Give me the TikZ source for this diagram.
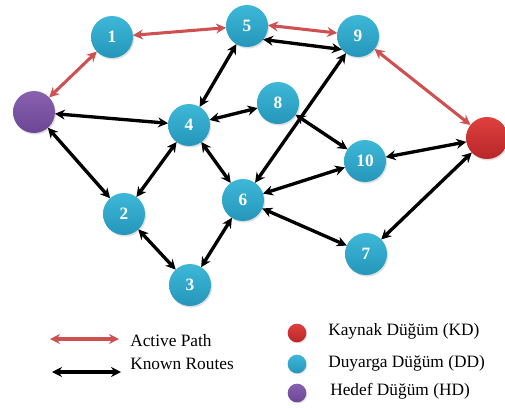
\documentclass[tikz,border=0pt]{standalone}
\usepackage{fontspec}
\setmainfont{Liberation Serif}
\usetikzlibrary{arrows.meta,shadows}
\definecolor{ddc}{RGB}{44,168,204}
\definecolor{ddtop}{RGB}{62,184,216}
\definecolor{ddbot}{RGB}{36,150,186}
\definecolor{kdc}{RGB}{208,48,48}
\definecolor{kdtop}{RGB}{222,64,62}
\definecolor{kdbot}{RGB}{185,38,40}
\definecolor{hdc}{RGB}{124,82,164}
\definecolor{hdtop}{RGB}{138,96,176}
\definecolor{hdbot}{RGB}{108,70,150}
\definecolor{actc}{RGB}{206,80,80}
\tikzset{
  nd/.style={circle,minimum size=31.5pt,inner sep=0pt,outer sep=0pt,
    drop shadow={opacity=0.25,shadow xshift=0.8pt,shadow yshift=-1.2pt},
    text=white,font=\fontsize{13}{13}\selectfont\bfseries},
  dd/.style={nd,top color=ddtop,bottom color=ddbot},
  kd/.style={nd,top color=kdtop,bottom color=kdbot},
  hd/.style={nd,top color=hdtop,bottom color=hdbot},
  known/.style={{Stealth[length=7.5pt,width=7.5pt]}-{Stealth[length=7.5pt,width=7.5pt]},line width=2.5pt,black},
  active/.style={{Stealth[length=7.5pt,width=7.5pt]}-{Stealth[length=7.5pt,width=7.5pt]},line width=2.3pt,actc},
  ldot/.style={circle,minimum size=14pt,inner sep=0pt,
    drop shadow={opacity=0.25,shadow xshift=0.6pt,shadow yshift=-0.8pt}},
  ltxt/.style={anchor=west,inner sep=0pt,font=\fontsize{13}{13}\selectfont}
}
\begin{document}
\begin{tikzpicture}[x=0.75pt,y=-0.75pt]
\useasboundingbox (0,0) rectangle (505,407);
% nodes
\node[hd] (hd) at (34,112) {};
\node[dd] (n1) at (112,37) {1};
\node[dd] (n5) at (247,26) {5};
\node[dd] (n9) at (358,36) {9};
\node[dd] (n4) at (189,125) {4};
\node[dd] (n8) at (278,103) {8};
\node[kd] (kd) at (487,138) {};
\node[dd] (n10) at (365,161) {10};
\node[dd] (n2) at (124,214) {2};
\node[dd] (n6) at (243,200) {6};
\node[dd] (n3) at (190,285) {3};
\node[dd] (n7) at (366,254) {7};
% active path
\draw[active] (hd) -- (n1);
\draw[active] (n1) -- (n5);
\draw[active] (n5.2) -- (n9.172);
\draw[active] (n9) -- (kd);
% known routes
\draw[known] (n5.-40) -- (n9.-140);
\draw[known] (n5) -- (n4);
\draw[known] (hd) -- (n4);
\draw[known] (hd) -- (n2);
\draw[known] (n4) -- (n8);
\draw[known] (n4) -- (n2);
\draw[known] (n4) -- (n6);
\draw[known] (n8) -- (n10);
\draw[known] (n9) -- (n6);
\draw[known] (n6) -- (n10);
\draw[known] (n6) -- (n7);
\draw[known] (n10) -- (kd);
\draw[known] (n7) -- (kd);
\draw[known] (n2) -- (n3);
\draw[known] (n3) -- (n6);
% legend
\coordinate (la1) at (50,339);
\coordinate (la2) at (119,339);
\coordinate (lb1) at (52,372);
\coordinate (lb2) at (121,372);
\draw[active] (la1) -- (la2);
\draw[known] (lb1) -- (lb2);
\node[ltxt] (tap) at (130,341) {Active Path};
\node[ltxt] (tkr) at (130,364) {Known Routes};
\node[ldot,top color=kdtop,bottom color=kdbot] (dk) at (297,333) {};
\node[ldot,top color=ddtop,bottom color=ddbot] (dd) at (297,364) {};
\node[ldot,top color=hdtop,bottom color=hdbot] (dh) at (297,393) {};
\node[ltxt] (tk) at (328,331) {Kaynak Düğüm (KD)};
\node[ltxt] (td) at (328,363) {Duyarga Düğüm (DD)};
\node[ltxt] (th) at (330,391) {Hedef Düğüm (HD)};
\end{tikzpicture}
\end{document}
